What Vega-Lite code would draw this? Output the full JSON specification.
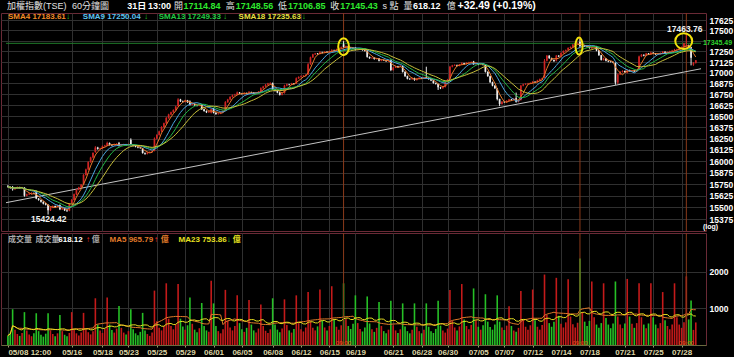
{
"$schema":"https://vega.github.io/schema/vega-lite/v6.json",
"background":"#000000",
"padding":0,
"spacing":0,
"config":{"view":{"stroke":"#6a2a36","strokeWidth":1},"font":"Liberation Sans",
 "axis":{"grid":true,"gridColor":"#303030","domain":false,"ticks":false,"labelFont":"Liberation Sans","labelFontSize":8.5,"labelFontWeight":"bold","labelColor":"#ffffff","labelPadding":3}},
"datasets":{
"bars":[
{"i":0,"o":15728,"h":15740,"l":15712,"c":15720,"v":260},
{"i":1,"o":15720,"h":15726,"l":15700,"c":15712,"v":340},
{"i":2,"o":15718,"h":15730,"l":15680,"c":15695,"v":980},
{"i":3,"o":15695,"h":15712,"l":15688,"c":15705,"v":420},
{"i":4,"o":15705,"h":15725,"l":15700,"c":15718,"v":300},
{"i":5,"o":15718,"h":15722,"l":15702,"c":15710,"v":250},
{"i":6,"o":15710,"h":15720,"l":15704,"c":15715,"v":330},
{"i":7,"o":15712,"h":15716,"l":15615,"c":15625,"v":900},
{"i":8,"o":15625,"h":15648,"l":15618,"c":15640,"v":400},
{"i":9,"o":15640,"h":15655,"l":15632,"c":15648,"v":290},
{"i":10,"o":15648,"h":15662,"l":15640,"c":15655,"v":240},
{"i":11,"o":15655,"h":15660,"l":15642,"c":15650,"v":320},
{"i":12,"o":15672,"h":15680,"l":15588,"c":15595,"v":870},
{"i":13,"o":15595,"h":15600,"l":15572,"c":15580,"v":380},
{"i":14,"o":15580,"h":15586,"l":15552,"c":15560,"v":280},
{"i":15,"o":15560,"h":15566,"l":15532,"c":15540,"v":230},
{"i":16,"o":15540,"h":15548,"l":15522,"c":15530,"v":310},
{"i":17,"o":15528,"h":15534,"l":15424.42,"c":15470,"v":870},
{"i":18,"o":15470,"h":15508,"l":15462,"c":15500,"v":400},
{"i":19,"o":15500,"h":15522,"l":15492,"c":15515,"v":300},
{"i":20,"o":15515,"h":15520,"l":15496,"c":15505,"v":240},
{"i":21,"o":15505,"h":15528,"l":15500,"c":15520,"v":320},
{"i":22,"o":15525,"h":15532,"l":15472,"c":15480,"v":820},
{"i":23,"o":15480,"h":15498,"l":15474,"c":15490,"v":380},
{"i":24,"o":15490,"h":15494,"l":15462,"c":15470,"v":280},
{"i":25,"o":15470,"h":15476,"l":15452,"c":15465,"v":240},
{"i":26,"o":15465,"h":15548,"l":15460,"c":15540,"v":330},
{"i":27,"o":15545,"h":15590,"l":15538,"c":15580,"v":900},
{"i":28,"o":15580,"h":15648,"l":15575,"c":15640,"v":420},
{"i":29,"o":15640,"h":15698,"l":15632,"c":15690,"v":320},
{"i":30,"o":15690,"h":15722,"l":15684,"c":15715,"v":260},
{"i":31,"o":15715,"h":15752,"l":15708,"c":15745,"v":340},
{"i":32,"o":15748,"h":15858,"l":15742,"c":15850,"v":880},
{"i":33,"o":15850,"h":15918,"l":15842,"c":15910,"v":430},
{"i":34,"o":15910,"h":15998,"l":15902,"c":15990,"v":350},
{"i":35,"o":15990,"h":16048,"l":15982,"c":16040,"v":290},
{"i":36,"o":16040,"h":16098,"l":16032,"c":16090,"v":380},
{"i":37,"o":16100,"h":16165,"l":16092,"c":16150,"v":1280},
{"i":38,"o":16150,"h":16158,"l":16126,"c":16135,"v":560},
{"i":39,"o":16135,"h":16148,"l":16128,"c":16140,"v":400},
{"i":40,"o":16140,"h":16172,"l":16134,"c":16165,"v":330},
{"i":41,"o":16165,"h":16180,"l":16158,"c":16172,"v":440},
{"i":42,"o":16170,"h":16215,"l":16165,"c":16200,"v":1300},
{"i":43,"o":16200,"h":16206,"l":16172,"c":16180,"v":560},
{"i":44,"o":16180,"h":16186,"l":16166,"c":16175,"v":410},
{"i":45,"o":16175,"h":16192,"l":16170,"c":16185,"v":340},
{"i":46,"o":16185,"h":16198,"l":16178,"c":16190,"v":450},
{"i":47,"o":16198,"h":16212,"l":16162,"c":16170,"v":1070},
{"i":48,"o":16170,"h":16188,"l":16164,"c":16180,"v":470},
{"i":49,"o":16180,"h":16192,"l":16174,"c":16185,"v":340},
{"i":50,"o":16185,"h":16190,"l":16170,"c":16178,"v":290},
{"i":51,"o":16178,"h":16195,"l":16172,"c":16188,"v":380},
{"i":52,"o":16235,"h":16252,"l":16172,"c":16178,"v":980},
{"i":53,"o":16178,"h":16184,"l":16162,"c":16170,"v":430},
{"i":54,"o":16170,"h":16176,"l":16152,"c":16160,"v":320},
{"i":55,"o":16160,"h":16166,"l":16142,"c":16150,"v":270},
{"i":56,"o":16150,"h":16158,"l":16136,"c":16145,"v":360},
{"i":57,"o":16140,"h":16146,"l":16082,"c":16090,"v":880},
{"i":58,"o":16090,"h":16096,"l":16070,"c":16080,"v":400},
{"i":59,"o":16080,"h":16102,"l":16074,"c":16095,"v":300},
{"i":60,"o":16095,"h":16108,"l":16088,"c":16100,"v":250},
{"i":61,"o":16100,"h":16118,"l":16094,"c":16110,"v":340},
{"i":62,"o":16115,"h":16262,"l":16108,"c":16250,"v":1490},
{"i":63,"o":16250,"h":16298,"l":16240,"c":16290,"v":650},
{"i":64,"o":16290,"h":16338,"l":16282,"c":16330,"v":470},
{"i":65,"o":16330,"h":16388,"l":16322,"c":16380,"v":400},
{"i":66,"o":16380,"h":16428,"l":16372,"c":16420,"v":520},
{"i":67,"o":16420,"h":16492,"l":16412,"c":16480,"v":1690},
{"i":68,"o":16480,"h":16528,"l":16472,"c":16520,"v":720},
{"i":69,"o":16520,"h":16552,"l":16512,"c":16545,"v":520},
{"i":70,"o":16545,"h":16578,"l":16538,"c":16570,"v":430},
{"i":71,"o":16570,"h":16618,"l":16562,"c":16610,"v":560},
{"i":72,"o":16615,"h":16705,"l":16608,"c":16690,"v":1670},
{"i":73,"o":16690,"h":16698,"l":16662,"c":16670,"v":720},
{"i":74,"o":16670,"h":16678,"l":16656,"c":16665,"v":510},
{"i":75,"o":16665,"h":16688,"l":16658,"c":16680,"v":420},
{"i":76,"o":16680,"h":16686,"l":16652,"c":16660,"v":540},
{"i":77,"o":16668,"h":16680,"l":16622,"c":16630,"v":1300},
{"i":78,"o":16630,"h":16648,"l":16624,"c":16640,"v":580},
{"i":79,"o":16640,"h":16646,"l":16618,"c":16625,"v":420},
{"i":80,"o":16625,"h":16632,"l":16612,"c":16620,"v":350},
{"i":81,"o":16620,"h":16642,"l":16614,"c":16635,"v":460},
{"i":82,"o":16630,"h":16636,"l":16572,"c":16580,"v":1150},
{"i":83,"o":16580,"h":16586,"l":16552,"c":16560,"v":520},
{"i":84,"o":16560,"h":16566,"l":16536,"c":16545,"v":400},
{"i":85,"o":16545,"h":16562,"l":16538,"c":16555,"v":360},
{"i":86,"o":16540,"h":16588,"l":16532,"c":16580,"v":1760},
{"i":87,"o":16585,"h":16592,"l":16532,"c":16540,"v":1140},
{"i":88,"o":16540,"h":16546,"l":16516,"c":16525,"v":520},
{"i":89,"o":16525,"h":16538,"l":16518,"c":16530,"v":380},
{"i":90,"o":16530,"h":16552,"l":16524,"c":16545,"v":320},
{"i":91,"o":16545,"h":16568,"l":16538,"c":16560,"v":430},
{"i":92,"o":16565,"h":16672,"l":16558,"c":16660,"v":1510},
{"i":93,"o":16660,"h":16698,"l":16652,"c":16690,"v":660},
{"i":94,"o":16690,"h":16728,"l":16682,"c":16720,"v":480},
{"i":95,"o":16720,"h":16748,"l":16712,"c":16740,"v":400},
{"i":96,"o":16740,"h":16756,"l":16732,"c":16745,"v":520},
{"i":97,"o":16745,"h":16782,"l":16738,"c":16770,"v":1360},
{"i":98,"o":16770,"h":16776,"l":16752,"c":16760,"v":600},
{"i":99,"o":16760,"h":16766,"l":16746,"c":16755,"v":430},
{"i":100,"o":16755,"h":16772,"l":16748,"c":16765,"v":360},
{"i":101,"o":16765,"h":16770,"l":16750,"c":16758,"v":470},
{"i":102,"o":16760,"h":16788,"l":16752,"c":16775,"v":1230},
{"i":103,"o":16775,"h":16780,"l":16762,"c":16770,"v":560},
{"i":104,"o":16770,"h":16776,"l":16752,"c":16760,"v":400},
{"i":105,"o":16760,"h":16775,"l":16754,"c":16768,"v":340},
{"i":106,"o":16768,"h":16788,"l":16762,"c":16780,"v":450},
{"i":107,"o":16780,"h":16830,"l":16772,"c":16820,"v":1110},
{"i":108,"o":16820,"h":16848,"l":16812,"c":16840,"v":520},
{"i":109,"o":16840,"h":16868,"l":16832,"c":16860,"v":390},
{"i":110,"o":16860,"h":16882,"l":16852,"c":16875,"v":330},
{"i":111,"o":16875,"h":16888,"l":16868,"c":16880,"v":430},
{"i":112,"o":16878,"h":16886,"l":16800,"c":16810,"v":1280},
{"i":113,"o":16810,"h":16816,"l":16782,"c":16790,"v":560},
{"i":114,"o":16790,"h":16796,"l":16762,"c":16770,"v":420},
{"i":115,"o":16770,"h":16776,"l":16736,"c":16745,"v":350},
{"i":116,"o":16745,"h":16768,"l":16738,"c":16760,"v":450},
{"i":117,"o":16765,"h":16860,"l":16758,"c":16850,"v":1250},
{"i":118,"o":16850,"h":16874,"l":16842,"c":16865,"v":550},
{"i":119,"o":16865,"h":16870,"l":16852,"c":16860,"v":400},
{"i":120,"o":16860,"h":16882,"l":16854,"c":16875,"v":340},
{"i":121,"o":16875,"h":16880,"l":16862,"c":16870,"v":440},
{"i":122,"o":16875,"h":16945,"l":16868,"c":16935,"v":1360},
{"i":123,"o":16935,"h":16958,"l":16928,"c":16950,"v":600},
{"i":124,"o":16950,"h":16968,"l":16942,"c":16960,"v":430},
{"i":125,"o":16960,"h":16972,"l":16952,"c":16965,"v":370},
{"i":126,"o":16965,"h":16982,"l":16958,"c":16975,"v":480},
{"i":127,"o":16980,"h":17112,"l":16974,"c":17100,"v":1450},
{"i":128,"o":17100,"h":17188,"l":17092,"c":17180,"v":650},
{"i":129,"o":17180,"h":17222,"l":17172,"c":17215,"v":470},
{"i":130,"o":17215,"h":17232,"l":17208,"c":17225,"v":400},
{"i":131,"o":17225,"h":17230,"l":17212,"c":17220,"v":510},
{"i":132,"o":17220,"h":17252,"l":17214,"c":17240,"v":1520},
{"i":133,"o":17240,"h":17246,"l":17226,"c":17235,"v":660},
{"i":134,"o":17235,"h":17252,"l":17228,"c":17245,"v":480},
{"i":135,"o":17245,"h":17250,"l":17232,"c":17240,"v":400},
{"i":136,"o":17240,"h":17258,"l":17234,"c":17250,"v":520},
{"i":137,"o":17250,"h":17276,"l":17244,"c":17265,"v":1610},
{"i":138,"o":17265,"h":17270,"l":17252,"c":17260,"v":700},
{"i":139,"o":17260,"h":17282,"l":17254,"c":17275,"v":500},
{"i":140,"o":17275,"h":17298,"l":17268,"c":17290,"v":420},
{"i":141,"o":17290,"h":17308,"l":17284,"c":17300,"v":540},
{"i":142,"o":17335,"h":17372,"l":17295,"c":17300,"v":1690},
{"i":143,"o":17300,"h":17318,"l":17294,"c":17310,"v":720},
{"i":144,"o":17310,"h":17314,"l":17288,"c":17295,"v":520},
{"i":145,"o":17295,"h":17300,"l":17282,"c":17290,"v":440},
{"i":146,"o":17290,"h":17296,"l":17278,"c":17285,"v":580},
{"i":147,"o":17292,"h":17300,"l":17262,"c":17270,"v":1360},
{"i":148,"o":17270,"h":17282,"l":17264,"c":17275,"v":600},
{"i":149,"o":17275,"h":17288,"l":17268,"c":17280,"v":440},
{"i":150,"o":17280,"h":17284,"l":17258,"c":17265,"v":370},
{"i":151,"o":17265,"h":17270,"l":17248,"c":17255,"v":480},
{"i":152,"o":17260,"h":17266,"l":17176,"c":17185,"v":1330},
{"i":153,"o":17185,"h":17190,"l":17162,"c":17170,"v":590},
{"i":154,"o":17170,"h":17182,"l":17164,"c":17175,"v":430},
{"i":155,"o":17175,"h":17180,"l":17152,"c":17160,"v":360},
{"i":156,"o":17160,"h":17172,"l":17154,"c":17165,"v":470},
{"i":157,"o":17165,"h":17172,"l":17132,"c":17140,"v":1180},
{"i":158,"o":17140,"h":17158,"l":17134,"c":17150,"v":520},
{"i":159,"o":17150,"h":17155,"l":17138,"c":17145,"v":380},
{"i":160,"o":17145,"h":17150,"l":17128,"c":17135,"v":320},
{"i":161,"o":17135,"h":17148,"l":17128,"c":17140,"v":420},
{"i":162,"o":17150,"h":17156,"l":17018,"c":17030,"v":1210},
{"i":163,"o":17030,"h":17068,"l":17024,"c":17060,"v":540},
{"i":164,"o":17060,"h":17082,"l":17054,"c":17075,"v":400},
{"i":165,"o":17075,"h":17080,"l":17062,"c":17070,"v":330},
{"i":166,"o":17070,"h":17088,"l":17064,"c":17080,"v":430},
{"i":167,"o":17075,"h":17082,"l":17002,"c":17010,"v":1140},
{"i":168,"o":17010,"h":17016,"l":16952,"c":16960,"v":510},
{"i":169,"o":16960,"h":16966,"l":16922,"c":16930,"v":380},
{"i":170,"o":16930,"h":16936,"l":16916,"c":16925,"v":320},
{"i":171,"o":16925,"h":16942,"l":16918,"c":16935,"v":420},
{"i":172,"o":16935,"h":16942,"l":16906,"c":16915,"v":1140},
{"i":173,"o":16915,"h":16938,"l":16908,"c":16930,"v":500},
{"i":174,"o":16930,"h":16948,"l":16924,"c":16940,"v":380},
{"i":175,"o":16940,"h":16945,"l":16928,"c":16935,"v":320},
{"i":176,"o":16935,"h":16952,"l":16928,"c":16945,"v":420},
{"i":177,"o":16950,"h":17070,"l":16932,"c":16940,"v":1140},
{"i":178,"o":16940,"h":16946,"l":16918,"c":16925,"v":500},
{"i":179,"o":16925,"h":16930,"l":16902,"c":16910,"v":380},
{"i":180,"o":16910,"h":16916,"l":16872,"c":16880,"v":330},
{"i":181,"o":16880,"h":16886,"l":16862,"c":16870,"v":440},
{"i":182,"o":16868,"h":16874,"l":16800,"c":16830,"v":1210},
{"i":183,"o":16830,"h":16836,"l":16810,"c":16820,"v":530},
{"i":184,"o":16820,"h":16842,"l":16814,"c":16835,"v":400},
{"i":185,"o":16835,"h":16908,"l":16828,"c":16900,"v":340},
{"i":186,"o":16900,"h":16928,"l":16892,"c":16920,"v":450},
{"i":187,"o":16930,"h":17080,"l":16924,"c":17070,"v":1510},
{"i":188,"o":17070,"h":17092,"l":17062,"c":17085,"v":660},
{"i":189,"o":17085,"h":17098,"l":17078,"c":17090,"v":480},
{"i":190,"o":17090,"h":17095,"l":17072,"c":17080,"v":400},
{"i":191,"o":17080,"h":17102,"l":17074,"c":17095,"v":510},
{"i":192,"o":17095,"h":17122,"l":17088,"c":17110,"v":1670},
{"i":193,"o":17110,"h":17115,"l":17092,"c":17100,"v":700},
{"i":194,"o":17100,"h":17122,"l":17094,"c":17115,"v":520},
{"i":195,"o":17115,"h":17128,"l":17108,"c":17120,"v":430},
{"i":196,"o":17120,"h":17132,"l":17114,"c":17125,"v":550},
{"i":197,"o":17130,"h":17138,"l":17092,"c":17100,"v":1550},
{"i":198,"o":17100,"h":17118,"l":17094,"c":17110,"v":680},
{"i":199,"o":17110,"h":17115,"l":17088,"c":17095,"v":500},
{"i":200,"o":17095,"h":17112,"l":17090,"c":17105,"v":420},
{"i":201,"o":17105,"h":17110,"l":17084,"c":17090,"v":540},
{"i":202,"o":17085,"h":17092,"l":17002,"c":17010,"v":1390},
{"i":203,"o":17010,"h":17016,"l":16952,"c":16960,"v":640},
{"i":204,"o":16960,"h":16966,"l":16882,"c":16890,"v":490},
{"i":205,"o":16890,"h":16896,"l":16842,"c":16850,"v":420},
{"i":206,"o":16850,"h":16856,"l":16812,"c":16820,"v":560},
{"i":207,"o":16815,"h":16822,"l":16680,"c":16695,"v":1360},
{"i":208,"o":16695,"h":16700,"l":16615,"c":16640,"v":640},
{"i":209,"o":16640,"h":16672,"l":16632,"c":16665,"v":480},
{"i":210,"o":16665,"h":16670,"l":16652,"c":16660,"v":410},
{"i":211,"o":16660,"h":16682,"l":16654,"c":16675,"v":530},
{"i":212,"o":16675,"h":16698,"l":16668,"c":16690,"v":1060},
{"i":213,"o":16690,"h":16696,"l":16676,"c":16685,"v":520},
{"i":214,"o":16685,"h":16708,"l":16678,"c":16700,"v":400},
{"i":215,"o":16705,"h":16770,"l":16655,"c":16665,"v":360},
{"i":216,"o":16665,"h":16688,"l":16658,"c":16680,"v":470},
{"i":217,"o":16685,"h":16858,"l":16678,"c":16850,"v":1480},
{"i":218,"o":16850,"h":16872,"l":16842,"c":16865,"v":680},
{"i":219,"o":16865,"h":16878,"l":16858,"c":16870,"v":500},
{"i":220,"o":16870,"h":16882,"l":16862,"c":16875,"v":420},
{"i":221,"o":16875,"h":16888,"l":16868,"c":16880,"v":540},
{"i":222,"o":16880,"h":16902,"l":16872,"c":16895,"v":1520},
{"i":223,"o":16895,"h":16900,"l":16882,"c":16890,"v":680},
{"i":224,"o":16890,"h":16918,"l":16884,"c":16910,"v":500},
{"i":225,"o":16910,"h":16932,"l":16904,"c":16925,"v":420},
{"i":226,"o":16925,"h":16942,"l":16918,"c":16935,"v":550},
{"i":227,"o":16945,"h":17160,"l":16938,"c":17140,"v":1930},
{"i":228,"o":17140,"h":17208,"l":17132,"c":17200,"v":820},
{"i":229,"o":17200,"h":17205,"l":17162,"c":17170,"v":600},
{"i":230,"o":17170,"h":17176,"l":17142,"c":17150,"v":500},
{"i":231,"o":17150,"h":17156,"l":17128,"c":17135,"v":640},
{"i":232,"o":17140,"h":17208,"l":17132,"c":17200,"v":1840},
{"i":233,"o":17200,"h":17205,"l":17182,"c":17190,"v":800},
{"i":234,"o":17190,"h":17238,"l":17184,"c":17230,"v":580},
{"i":235,"o":17230,"h":17262,"l":17224,"c":17255,"v":480},
{"i":236,"o":17255,"h":17272,"l":17248,"c":17265,"v":620},
{"i":237,"o":17270,"h":17298,"l":17262,"c":17290,"v":1800},
{"i":238,"o":17290,"h":17308,"l":17284,"c":17300,"v":780},
{"i":239,"o":17300,"h":17338,"l":17294,"c":17330,"v":570},
{"i":240,"o":17330,"h":17352,"l":17322,"c":17345,"v":480},
{"i":241,"o":17345,"h":17358,"l":17338,"c":17350,"v":610},
{"i":242,"o":17365,"h":17400,"l":17300,"c":17315,"v":2370},
{"i":243,"o":17315,"h":17328,"l":17308,"c":17320,"v":900},
{"i":244,"o":17320,"h":17325,"l":17302,"c":17310,"v":640},
{"i":245,"o":17310,"h":17315,"l":17298,"c":17305,"v":520},
{"i":246,"o":17305,"h":17310,"l":17282,"c":17290,"v":660},
{"i":247,"o":17285,"h":17308,"l":17278,"c":17300,"v":1740},
{"i":248,"o":17300,"h":17318,"l":17294,"c":17310,"v":760},
{"i":249,"o":17310,"h":17315,"l":17252,"c":17260,"v":560},
{"i":250,"o":17260,"h":17266,"l":17198,"c":17205,"v":470},
{"i":251,"o":17205,"h":17210,"l":17142,"c":17150,"v":600},
{"i":252,"o":17150,"h":17175,"l":17142,"c":17165,"v":1690},
{"i":253,"o":17165,"h":17170,"l":17132,"c":17140,"v":740},
{"i":254,"o":17140,"h":17145,"l":17122,"c":17130,"v":560},
{"i":255,"o":17130,"h":17136,"l":17118,"c":17125,"v":460},
{"i":256,"o":17125,"h":17132,"l":17112,"c":17120,"v":590},
{"i":257,"o":17115,"h":17120,"l":16860,"c":16885,"v":1740},
{"i":258,"o":16885,"h":16990,"l":16870,"c":16980,"v":780},
{"i":259,"o":16980,"h":17018,"l":16972,"c":17010,"v":560},
{"i":260,"o":17010,"h":17028,"l":17002,"c":17020,"v":460},
{"i":261,"o":17020,"h":17025,"l":16998,"c":17005,"v":590},
{"i":262,"o":17000,"h":17040,"l":16992,"c":17030,"v":1810},
{"i":263,"o":17030,"h":17035,"l":17012,"c":17020,"v":780},
{"i":264,"o":17020,"h":17032,"l":17014,"c":17025,"v":580},
{"i":265,"o":17025,"h":17030,"l":17008,"c":17015,"v":470},
{"i":266,"o":17015,"h":17038,"l":17008,"c":17030,"v":600},
{"i":267,"o":17040,"h":17200,"l":17032,"c":17190,"v":1690},
{"i":268,"o":17190,"h":17218,"l":17182,"c":17210,"v":760},
{"i":269,"o":17210,"h":17215,"l":17192,"c":17200,"v":560},
{"i":270,"o":17200,"h":17232,"l":17194,"c":17225,"v":460},
{"i":271,"o":17225,"h":17230,"l":17208,"c":17215,"v":590},
{"i":272,"o":17215,"h":17245,"l":17208,"c":17235,"v":1690},
{"i":273,"o":17235,"h":17240,"l":17218,"c":17225,"v":760},
{"i":274,"o":17225,"h":17230,"l":17208,"c":17215,"v":560},
{"i":275,"o":17215,"h":17228,"l":17210,"c":17220,"v":460},
{"i":276,"o":17220,"h":17238,"l":17214,"c":17230,"v":600},
{"i":277,"o":17230,"h":17255,"l":17222,"c":17245,"v":1450},
{"i":278,"o":17245,"h":17250,"l":17218,"c":17225,"v":680},
{"i":279,"o":17225,"h":17248,"l":17220,"c":17240,"v":520},
{"i":280,"o":17240,"h":17258,"l":17234,"c":17250,"v":430},
{"i":281,"o":17250,"h":17268,"l":17244,"c":17260,"v":560},
{"i":282,"o":17255,"h":17280,"l":17248,"c":17270,"v":1690},
{"i":283,"o":17270,"h":17282,"l":17262,"c":17275,"v":760},
{"i":284,"o":17275,"h":17298,"l":17268,"c":17290,"v":560},
{"i":285,"o":17290,"h":17308,"l":17284,"c":17300,"v":470},
{"i":286,"o":17300,"h":17352,"l":17294,"c":17345.49,"v":620},
{"i":287,"o":17310,"h":17463.76,"l":17300,"c":17321,"v":1880},
{"i":288,"o":17321,"h":17330,"l":17290,"c":17300,"v":700},
{"i":289,"o":17300,"h":17305,"l":17085,"c":17176,"v":1217},
{"i":290,"o":17095,"h":17125,"l":17080,"c":17112.94,"v":413.83},
{"i":291,"o":17114.84,"h":17148.56,"l":17106.85,"c":17145.43,"v":618.12}
],
"marks":[{"i":142},{"i":242},{"i":287}],
"trend":[{"i":-0.8,"p":15551},{"i":293.2,"p":17046}],
"ref":[{"i":-0.8,"p":17345.49},{"i":293.2,"p":17345.49}],
"rings":[{"i":142,"p":17305,"k":"a"},{"i":241.6,"p":17313,"k":"b"},{"i":285.9,"p":17373,"k":"c"}],
"hdr1b":[
{"i":50.5,"p":17795,"t":"31日","k":"wht"},
{"i":59.3,"p":17795,"t":"13:00","k":"wht"},
{"i":74.3,"p":17795,"t":"17114.84","k":"val"},
{"i":96.4,"p":17795,"t":"17148.56","k":"val"},
{"i":118.5,"p":17795,"t":"17106.85","k":"val"},
{"i":140.6,"p":17795,"t":"17145.43","k":"val"},
{"i":171.4,"p":17795,"t":"618.12","k":"wht"}
],
"hdr1w":[
{"i":190.2,"p":17795,"t":"+32.49 (+0.19%)"}
],
"hdr1n":[
{"i":-0.38,"p":17795,"t":"加權指數(TSE)"},
{"i":27.1,"p":17795,"t":"60分鐘圖"},
{"i":70.3,"p":17795,"t":"開"},
{"i":92.2,"p":17795,"t":"高"},
{"i":114.3,"p":17795,"t":"低"},
{"i":136.4,"p":17795,"t":"收"},
{"i":158.5,"p":17795,"t":"s 點"},
{"i":167.3,"p":17795,"t":"量"},
{"i":185.6,"p":17795,"t":"億"}
],
"hdr2":[
{"i":0.03,"p":17661,"t":"SMA4 17183.61","k":"sma4"},
{"i":24.6,"p":17661,"t":"↓","k":"dn"},
{"i":31.7,"p":17661,"t":"SMA9 17250.04","k":"sma9"},
{"i":57.6,"p":17661,"t":"↓","k":"dn"},
{"i":63.8,"p":17661,"t":"SMA13 17249.33","k":"sma13"},
{"i":91.0,"p":17661,"t":"↓","k":"dn"},
{"i":97.6,"p":17661,"t":"SMA18 17235.63","k":"sma18"},
{"i":124.3,"p":17661,"t":"↓","k":"dn"}
],
"plabc":[
{"i":286.3,"p":17517,"t":"17463.76"},
{"i":17.3,"p":15378,"t":"15424.42"}
],
"plabl":[
{"i":294.0,"p":17345.49,"t":"17345.49","k":"grn"},
{"i":294.0,"p":15290,"t":"(log)","k":"wht"}
],
"vhdr":[
{"i":0.03,"v":2877,"t":"成交量","k":"gry"},
{"i":11.7,"v":2877,"t":"成交量","k":"gry"},
{"i":21.3,"v":2877,"t":"618.12","k":"wht"},
{"i":33.0,"v":2877,"t":"↑","k":"up"},
{"i":35.5,"v":2877,"t":"億","k":"gry"},
{"i":43.0,"v":2877,"t":"MA5 965.79","k":"ma5"},
{"i":61.8,"v":2877,"t":"↑","k":"up"},
{"i":64.7,"v":2877,"t":"億","k":"ma5"},
{"i":72.2,"v":2877,"t":"MA23 753.86","k":"ma23"},
{"i":92.6,"v":2877,"t":"↓","k":"dn"},
{"i":95.1,"v":2877,"t":"億","k":"ma23"}
],
"nine":[{"i":142,"v":50,"t":"09:00"},{"i":242,"v":50,"t":"09:00"},{"i":287,"v":50,"t":"09:00"}]
},
"vconcat":[
{
"width":705,"height":218,
"resolve":{"scale":{"color":"independent","shape":"independent","size":"independent"}},
"encoding":{
 "x":{"field":"i","type":"quantitative","scale":{"domain":[-0.8,293.2],"nice":false,"zero":false},
  "axis":{"values":[0,27,40,51,63,75,87,99,112,124,136,147,163,175,186,199,210,222,234,246,261,273,285],"labels":false,"title":null}}
},
"layer":[
{"data":{"name":"marks"},"mark":{"type":"rule","color":"#8a3a1a","strokeWidth":1}},
{"data":{"name":"ref"},"mark":{"type":"line","color":"#1f7a2a","strokeWidth":1},
 "encoding":{
  "y":{"field":"p","type":"quantitative","scale":{"type":"log","domain":[15252,17710],"nice":false},
   "axis":{"orient":"right","values":[15375,15500,15625,15750,15875,16000,16125,16250,16375,16500,16625,16750,16875,17000,17125,17250,17375,17500,17625],"labelExpr":"datum.value == 17375 ? '' : datum.label","format":"d","title":null}}
 }},
{"data":{"name":"trend"},"mark":{"type":"line","color":"#c4c4c4","strokeWidth":1},
 "encoding":{
  "y":{"field":"p","type":"quantitative","scale":{"type":"log","domain":[15252,17710],"nice":false},
   "axis":{"orient":"right","values":[15375,15500,15625,15750,15875,16000,16125,16250,16375,16500,16625,16750,16875,17000,17125,17250,17375,17500,17625],"labelExpr":"datum.value == 17375 ? '' : datum.label","format":"d","title":null}}
 }},
{"data":{"name":"bars"},"mark":{"type":"rule","strokeWidth":1},
 "encoding":{
  "y":{"field":"l","type":"quantitative","scale":{"type":"log","domain":[15252,17710],"nice":false},
   "axis":{"orient":"right","values":[15375,15500,15625,15750,15875,16000,16125,16250,16375,16500,16625,16750,16875,17000,17125,17250,17375,17500,17625],"labelExpr":"datum.value == 17375 ? '' : datum.label","format":"d","title":null}},
  "y2":{"field":"h"},
  "color":{"condition":{"test":"datum.c >= datum.o","value":"#d02424"},"value":"#ececec"}
 }},
{"data":{"name":"bars"},"mark":{"type":"bar","width":1.7},
 "encoding":{
  "y":{"field":"o","type":"quantitative","scale":{"type":"log","domain":[15252,17710],"nice":false},
   "axis":{"orient":"right","values":[15375,15500,15625,15750,15875,16000,16125,16250,16375,16500,16625,16750,16875,17000,17125,17250,17375,17500,17625],"labelExpr":"datum.value == 17375 ? '' : datum.label","format":"d","title":null}},
  "y2":{"field":"c"},
  "color":{"condition":{"test":"datum.c >= datum.o","value":"#d02424"},"value":"#ececec"}
 }},
{"data":{"name":"bars"},
 "transform":[
  {"window":[{"op":"mean","field":"c","as":"SMA4"}],"frame":[-3,0],"sort":[{"field":"i"}]},
  {"window":[{"op":"mean","field":"c","as":"SMA9"}],"frame":[-8,0],"sort":[{"field":"i"}]},
  {"window":[{"op":"mean","field":"c","as":"SMA13"}],"frame":[-12,0],"sort":[{"field":"i"}]},
  {"window":[{"op":"mean","field":"c","as":"SMA18"}],"frame":[-17,0],"sort":[{"field":"i"}]},
  {"fold":["SMA4","SMA9","SMA13","SMA18"],"as":["key","val"]}
 ],
 "mark":{"type":"line","strokeWidth":1},
 "encoding":{
  "y":{"field":"val","type":"quantitative","scale":{"type":"log","domain":[15252,17710],"nice":false},
   "axis":{"orient":"right","values":[15375,15500,15625,15750,15875,16000,16125,16250,16375,16500,16625,16750,16875,17000,17125,17250,17375,17500,17625],"labelExpr":"datum.value == 17375 ? '' : datum.label","format":"d","title":null}},
  "color":{"field":"key","type":"nominal","scale":{"domain":["SMA4","SMA9","SMA13","SMA18"],"range":["#e8782a","#4aa8e0","#22b844","#c8c03a"]},"legend":null},
  "order":{"field":"i"}
 }},
{"data":{"name":"rings"},"mark":{"type":"point","filled":false,"strokeWidth":2,"color":"#f2e20c","opacity":1},
 "encoding":{
  "y":{"field":"p","type":"quantitative","scale":{"type":"log","domain":[15252,17710],"nice":false},
   "axis":{"orient":"right","values":[15375,15500,15625,15750,15875,16000,16125,16250,16375,16500,16625,16750,16875,17000,17125,17250,17375,17500,17625],"labelExpr":"datum.value == 17375 ? '' : datum.label","format":"d","title":null}},
  "shape":{"field":"k","type":"nominal","scale":{"domain":["a","b","c"],"range":["M0,-1A0.63,1,0,1,1,0,1A0.63,1,0,1,1,0,-1Z","M0,-1A0.42,1,0,1,1,0,1A0.42,1,0,1,1,0,-1Z","M-1,0A1,0.93,0,1,1,1,0A1,0.93,0,1,1,-1,0Z"]},"legend":null},
  "size":{"field":"k","type":"ordinal","scale":{"domain":["a","b","c"],"range":[289,289,169]},"legend":null}
 }},
{"data":{"name":"hdr1n"},"mark":{"type":"text","align":"left","baseline":"middle","font":"Liberation Sans, Noto Sans CJK TC","fontSize":9,"color":"#e0e0e0"},
 "encoding":{
  "y":{"field":"p","type":"quantitative","scale":{"type":"log","domain":[15252,17710],"nice":false},
   "axis":{"orient":"right","values":[15375,15500,15625,15750,15875,16000,16125,16250,16375,16500,16625,16750,16875,17000,17125,17250,17375,17500,17625],"labelExpr":"datum.value == 17375 ? '' : datum.label","format":"d","title":null}},
  "text":{"field":"t"}
 }},
{"data":{"name":"hdr1b"},"mark":{"type":"text","align":"left","baseline":"middle","font":"Liberation Sans, Noto Sans CJK TC","fontSize":9,"fontWeight":"bold"},
 "encoding":{
  "y":{"field":"p","type":"quantitative","scale":{"type":"log","domain":[15252,17710],"nice":false},
   "axis":{"orient":"right","values":[15375,15500,15625,15750,15875,16000,16125,16250,16375,16500,16625,16750,16875,17000,17125,17250,17375,17500,17625],"labelExpr":"datum.value == 17375 ? '' : datum.label","format":"d","title":null}},
  "text":{"field":"t"},
  "color":{"field":"k","type":"nominal","scale":{"domain":["wht","val"],"range":["#ffffff","#2ee82e"]},"legend":null}
 }},
{"data":{"name":"hdr1w"},"mark":{"type":"text","align":"left","baseline":"middle","font":"Liberation Sans","fontSize":10.5,"fontWeight":"bold","color":"#ffffff"},
 "encoding":{
  "y":{"field":"p","type":"quantitative","scale":{"type":"log","domain":[15252,17710],"nice":false},
   "axis":{"orient":"right","values":[15375,15500,15625,15750,15875,16000,16125,16250,16375,16500,16625,16750,16875,17000,17125,17250,17375,17500,17625],"labelExpr":"datum.value == 17375 ? '' : datum.label","format":"d","title":null}},
  "text":{"field":"t"}
 }},
{"data":{"name":"hdr2"},"mark":{"type":"text","align":"left","baseline":"middle","font":"Liberation Sans, DejaVu Sans","fontSize":8,"fontWeight":"bold"},
 "encoding":{
  "y":{"field":"p","type":"quantitative","scale":{"type":"log","domain":[15252,17710],"nice":false},
   "axis":{"orient":"right","values":[15375,15500,15625,15750,15875,16000,16125,16250,16375,16500,16625,16750,16875,17000,17125,17250,17375,17500,17625],"labelExpr":"datum.value == 17375 ? '' : datum.label","format":"d","title":null}},
  "text":{"field":"t"},
  "color":{"field":"k","type":"nominal","scale":{"domain":["sma4","sma9","sma13","sma18","dn"],"range":["#f08c28","#5ec4f0","#22cc44","#e8e040","#22cc22"]},"legend":null}
 }},
{"data":{"name":"plabc"},"mark":{"type":"text","align":"center","baseline":"middle","font":"Liberation Sans","fontSize":8.5,"fontWeight":"bold","color":"#f0f0f0"},
 "encoding":{
  "y":{"field":"p","type":"quantitative","scale":{"type":"log","domain":[15252,17710],"nice":false},
   "axis":{"orient":"right","values":[15375,15500,15625,15750,15875,16000,16125,16250,16375,16500,16625,16750,16875,17000,17125,17250,17375,17500,17625],"labelExpr":"datum.value == 17375 ? '' : datum.label","format":"d","title":null}},
  "text":{"field":"t"}
 }},
{"data":{"name":"plabl"},"mark":{"type":"text","align":"left","baseline":"middle","font":"Liberation Sans","fontSize":7,"fontWeight":"bold"},
 "encoding":{
  "y":{"field":"p","type":"quantitative","scale":{"type":"log","domain":[15252,17710],"nice":false},
   "axis":{"orient":"right","values":[15375,15500,15625,15750,15875,16000,16125,16250,16375,16500,16625,16750,16875,17000,17125,17250,17375,17500,17625],"labelExpr":"datum.value == 17375 ? '' : datum.label","format":"d","title":null}},
  "text":{"field":"t"},
  "color":{"field":"k","type":"nominal","scale":{"domain":["grn","wht"],"range":["#2ed02e","#ffffff"]},"legend":null}
 }}
]
},
{
"width":705,"height":112,
"resolve":{"scale":{"color":"independent"}},
"encoding":{
 "x":{"field":"i","type":"quantitative","scale":{"domain":[-0.8,293.2],"nice":false,"zero":false},
  "axis":{"values":[0,27,40,51,63,75,87,99,112,124,136,147,163,175,186,199,210,222,234,246,261,273,285],
   "labelExpr":"['05/08 12:00','05/16','05/18','05/23','05/25','05/29','06/01','06/05','06/08','06/12','06/15','06/19','06/21','06/28','06/30','07/05','07/07','07/12','07/14','07/18','07/21','07/25','07/28'][indexof([0,27,40,51,63,75,87,99,112,124,136,147,163,175,186,199,210,222,234,246,261,273,285],datum.value)]",
   "labelAlign":{"condition":{"test":"datum.value < 1","value":"left"},"value":"center"},
   "labelColor":"#ddd5a5","labelFontSize":8,"labelPadding":1,"labelOverlap":false,
   "ticks":true,"tickColor":"#9a9a6a","tickSize":2,"domain":true,"domainColor":"#6a6a40","title":null}}
},
"layer":[
{"data":{"name":"bars"},"mark":{"type":"bar","width":1.6,"orient":"vertical"},
 "encoding":{
  "y":{"field":"v","type":"quantitative","scale":{"domain":[0,3068],"nice":false,"zero":true},
   "axis":{"orient":"right","values":[1000,2000],"format":"d","title":null}},
  "color":{"condition":{"test":"datum.c >= datum.o","value":"#c41a1a"},"value":"#26c026"}
 }},
{"data":{"name":"bars"},
 "transform":[
  {"window":[{"op":"mean","field":"v","as":"MA5"}],"frame":[-4,0],"sort":[{"field":"i"}]},
  {"window":[{"op":"mean","field":"v","as":"MA23"}],"frame":[-22,0],"sort":[{"field":"i"}]},
  {"fold":["MA5","MA23"],"as":["key","val"]}
 ],
 "mark":{"type":"line","strokeWidth":1},
 "encoding":{
  "y":{"field":"val","type":"quantitative","scale":{"domain":[0,3068],"nice":false,"zero":true},
   "axis":{"orient":"right","values":[1000,2000],"format":"d","title":null}},
  "color":{"field":"key","type":"nominal","scale":{"domain":["MA5","MA23"],"range":["#e07a2a","#e8e020"]},"legend":null},
  "order":{"field":"i"}
 }},
{"data":{"name":"marks"},"mark":{"type":"rule","color":"#8a3a1a","strokeWidth":1}},
{"data":{"name":"vhdr"},"mark":{"type":"text","align":"left","baseline":"middle","font":"Liberation Sans, Noto Sans CJK TC","fontSize":8,"fontWeight":"bold"},
 "encoding":{
  "y":{"field":"v","type":"quantitative","scale":{"domain":[0,3068],"nice":false,"zero":true},
   "axis":{"orient":"right","values":[1000,2000],"format":"d","title":null}},
  "text":{"field":"t"},
  "color":{"field":"k","type":"nominal","scale":{"domain":["gry","wht","up","dn","ma5","ma23"],"range":["#a8a8a8","#ffffff","#ff3030","#22cc22","#e07a2a","#e8e020"]},"legend":null}
 }},
{"data":{"name":"nine"},"mark":{"type":"text","align":"center","baseline":"middle","font":"Liberation Sans","fontSize":6,"color":"#e0581a"},
 "encoding":{
  "y":{"field":"v","type":"quantitative","scale":{"domain":[0,3068],"nice":false,"zero":true},
   "axis":{"orient":"right","values":[1000,2000],"format":"d","title":null}},
  "text":{"field":"t"}
 }}
]
}
]
}
